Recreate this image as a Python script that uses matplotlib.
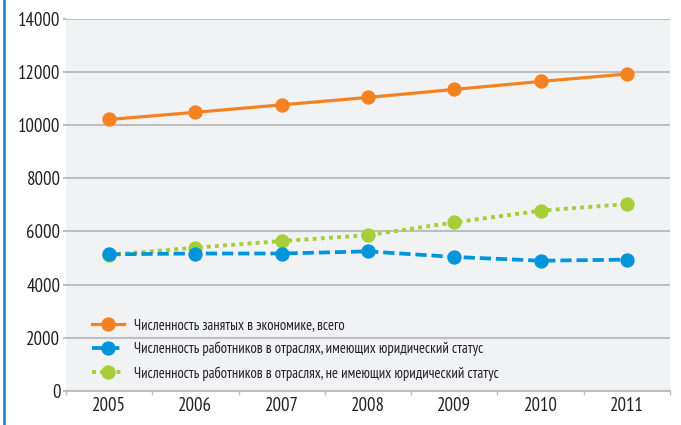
import matplotlib
matplotlib.use("Agg")
import matplotlib.pyplot as plt
from matplotlib.lines import Line2D

years = ["2005", "2006", "2007", "2008", "2009", "2010", "2011"]
total = [10210, 10480, 10760, 11040, 11340, 11640, 11920]
legal = [5140, 5170, 5170, 5250, 5040, 4900, 4940]
nonlegal = [5120, 5390, 5640, 5860, 6340, 6780, 7030]
y_ticks = [0, 2000, 4000, 6000, 8000, 10000, 12000, 14000]
labels = [
    "Численность занятых в экономике, всего",
    "Численность работников в отраслях, имеющих юридический статус",
    "Численность работников в отраслях, не имеющих юридический статус",
]

plt.rcParams["font.family"] = ["PT Sans Narrow", "DejaVu Sans"]

W, H = 681, 425
fig = plt.figure(figsize=(W / 100, H / 100), dpi=100)
fig.patch.set_facecolor("white")
ax = fig.add_axes([66 / W, (H - 391) / H, (670 - 66) / W, (391 - 18.7) / H])
ax.set_facecolor("#f1f2f4")

x = list(range(len(years)))
ax.plot(x, total, color="#f58220", lw=2.3, marker="o", ms=9.3, mec="#f58220", mfc="#f58220",
        label=labels[0], zorder=5)
ax.plot(x, legal, color="#0095da", lw=2.7, ls=(0, (3, 1.3)), dash_capstyle="butt", marker="o",
        ms=9.3, mec="#0095da", mfc="#0095da", label=labels[1], zorder=4)
ax.plot(x, nonlegal, color="#a6ce39", lw=2.8, ls=(0, (1, 1.1)), dash_capstyle="butt", marker="o",
        ms=9.3, mec="#a6ce39", mfc="#a6ce39", label=labels[2], zorder=3)

ax.set_xlim(-0.5, len(years) - 0.5)
ax.set_ylim(0, 14000)
ax.set_yticks(y_ticks)
ax.set_yticklabels([str(v) for v in y_ticks], fontsize=13.5, color="#231f20")
ax.set_xticks(x)
ax.set_xticklabels(years, fontsize=13.5, color="#231f20")
ax.set_xticks([i - 0.5 for i in range(len(years) + 1)], minor=True)
ax.tick_params(axis="x", which="major", length=0, pad=4)
ax.tick_params(axis="x", which="minor", length=3, width=1, color="#bcbec0")
ax.tick_params(axis="y", which="major", length=2, width=1.5, color="#bcbec0", pad=2)

for s in ["top", "right", "left"]:
    ax.spines[s].set_visible(False)
ax.spines["bottom"].set_color("#bcbec0")
ax.spines["bottom"].set_linewidth(1.5)
ax.grid(axis="y", color="#bcbec0", lw=1.5)
ax.set_axisbelow(True)

leg = ax.legend(loc="lower left", bbox_to_anchor=(0.043, 0.028), frameon=False, fontsize=10.5,
                handlelength=2.2, handletextpad=0.7, labelspacing=0.66, borderaxespad=0,
                borderpad=0)
for t in leg.get_texts():
    t.set_color("#231f20")

fig.add_artist(Line2D([3.5 / W, 3.5 / W], [0, 1], color="#0a82c8", lw=1.8, transform=fig.transFigure))

fig.savefig("out.png", dpi=100)
